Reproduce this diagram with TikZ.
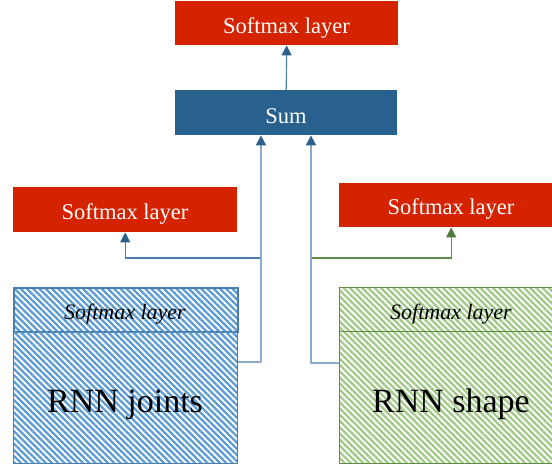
\documentclass[tikz,border=0pt]{standalone}
\usepackage{fontspec}
\newfontfamily\libserif{Liberation Serif}
\usetikzlibrary{patterns.meta,arrows.meta}
\definecolor{softred}{HTML}{D52300}
\definecolor{sumblue}{HTML}{28618E}
\definecolor{hatchblue}{HTML}{5E9CD4}
\definecolor{borderblue}{HTML}{4A7EB0}
\definecolor{hatchgreen}{HTML}{A2C987}
\definecolor{bordergreen}{HTML}{5F8A48}
\definecolor{vlineblue}{HTML}{8AABCB}
\definecolor{arrowblue}{HTML}{2B5F8C}
\definecolor{linegreen}{HTML}{5F8A48}
\definecolor{arrowgreen}{HTML}{4F7A3A}
\begin{document}
\begin{tikzpicture}[x=1pt,y=-1pt,
  rect/.style={rectangle, inner sep=0pt, anchor=north west},
  redfill/.style={rect, fill=softred},
  bluehatch/.style={rect, draw=borderblue, line width=1.4pt,
    pattern={Lines[angle=-45,distance=4.4pt,line width=2.3pt]}, pattern color=hatchblue},
  greenhatch/.style={rect, draw=bordergreen, line width=1.4pt,
    pattern={Lines[angle=-45,distance=4.4pt,line width=2.3pt]}, pattern color=hatchgreen},
  whitetxt/.style={anchor=base, inner sep=0pt, text=white, font=\libserif\fontsize{22.5}{27}\selectfont},
  italtxt/.style={anchor=base, inner sep=0pt, text=black, font=\libserif\fontsize{22}{26}\selectfont\itshape},
  bigtxt/.style={anchor=base, inner sep=0pt, text=black, font=\libserif\fontsize{34}{40}\selectfont},
  bluetip/.style={-{Triangle[width=10pt,length=10pt,color=arrowblue]}},
  greentip/.style={-{Triangle[width=10pt,length=10pt,color=arrowgreen]}},
  vline/.style={draw=vlineblue, line width=2pt, line join=round},
  thinblue/.style={draw=borderblue, line width=1.1pt},
  thingreen/.style={draw=linegreen, line width=1.1pt}
]
\useasboundingbox (0,0) rectangle (552,467);
\clip (0,0) rectangle (552,467);
\fill[white] (0,0) rectangle (552,467);

% boxes
\node[redfill, minimum width=223pt, minimum height=44pt] (top) at (175,1) {};
\node[rect, fill=sumblue, minimum width=222pt, minimum height=45pt] (sum) at (175,90) {};
\node[redfill, minimum width=224pt, minimum height=45pt] (lsm) at (13,187) {};
\node[redfill, minimum width=224pt, minimum height=44pt] (rsm) at (339,183) {};
\node[bluehatch, minimum width=224pt, minimum height=44pt] (ljh) at (13,287) {};
\node[bluehatch, minimum width=224pt, minimum height=132pt] (ljb) at (13,331) {};
\node[greenhatch, minimum width=224pt, minimum height=44pt] (rsh) at (339,287) {};
\node[greenhatch, minimum width=224pt, minimum height=132pt] (rsb) at (339,331) {};

% texts
\node[whitetxt] (toptxt) at (286.5,33) {Softmax layer};
\node[whitetxt] (sumtxt) at (286,123) {Sum};
\node[whitetxt] (lsmtxt) at (125,219) {Softmax layer};
\node[whitetxt] (rsmtxt) at (451,214) {Softmax layer};
\node[italtxt] (ljhtxt) at (125,319) {Softmax layer};
\node[italtxt] (rshtxt) at (451,319) {Softmax layer};
\node[bigtxt] (ljbtxt) at (125,412) {RNN joints};
\node[bigtxt] (rsbtxt) at (451,412) {RNN shape};

% connectors
\coordinate (ljc) at (261,362);
\coordinate (lbr) at (261,258);
\coordinate (rjc) at (311,363);
\coordinate (rbr) at (311,258);

\draw[thinblue, bluetip] (lbr) -| (lsm.south);
\draw[thingreen, greentip] (rbr) -| (rsm.south);
\draw[vline, bluetip] (ljb.east |- ljc) -- (ljc) -- (ljc |- sum.south);
\draw[vline, bluetip] (rsb.west |- rjc) -- (rjc) -- (rjc |- sum.south);
\draw[thinblue, bluetip] (sum.north) -- (top.south);
\end{tikzpicture}
\end{document}
